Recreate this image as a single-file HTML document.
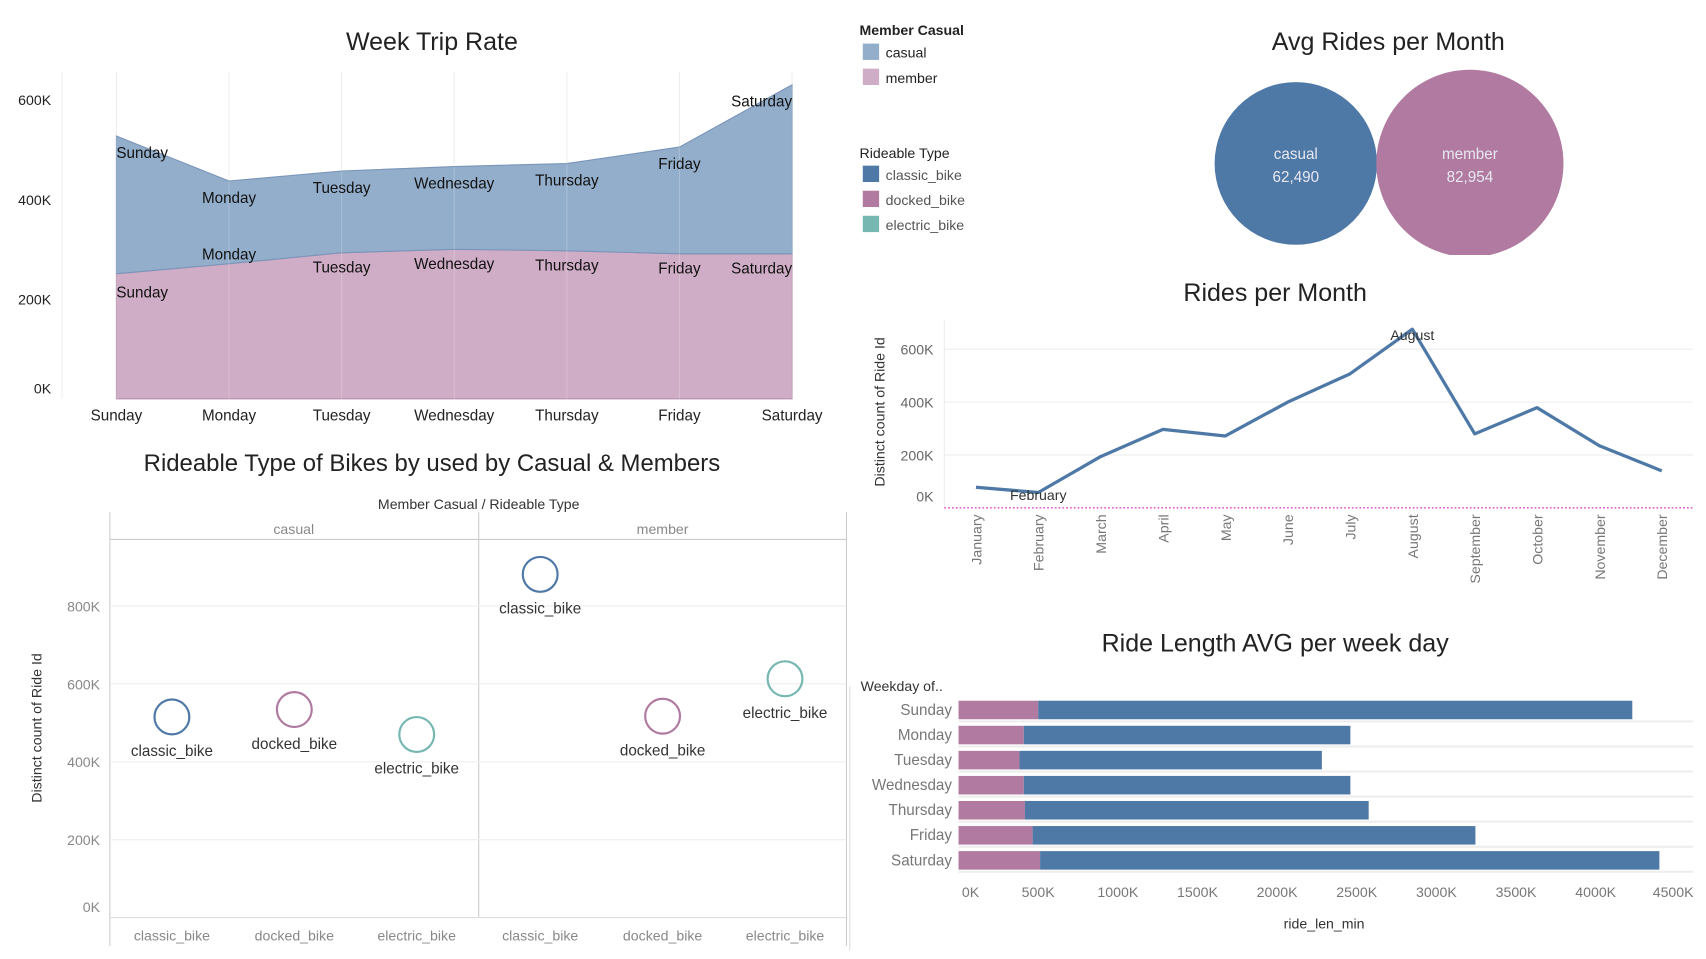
<!DOCTYPE html>
<html><head><meta charset="utf-8"><style>
html,body{margin:0;padding:0;background:#fff;overflow:hidden}
svg{display:block;font-family:"Liberation Sans",sans-serif}
</style></head><body>
<svg id="dash" width="1706" height="959" viewBox="0 0 1568 880" preserveAspectRatio="none" xmlns="http://www.w3.org/2000/svg">
</svg>
<script>
// ---------- data ----------
const weekDays = ["Sunday","Monday","Tuesday","Wednesday","Thursday","Friday","Saturday"];
const tripMember = [251000,271000,293000,300000,297000,291000,291000];
const tripCasual = [276000,166000,164000,166000,175000,214000,339000];
const tripTicks = [0,200000,400000,600000];

const avgLabels = ["casual","member"];
const avgValues = [62490,82954];

const months = ["January","February","March","April","May","June","July","August","September","October","November","December"];
const monthRides = [78000,58000,194000,297000,272000,400000,507000,676000,280000,379000,235000,140000];
const monthTicks = [0,200000,400000,600000];

const groups = ["casual","member"];
const bikeTypes = ["classic_bike","docked_bike","electric_bike"];
const bikeCasual = [515000,534000,470000];
const bikeMember = [881000,517000,613000];
const bikeTicks = [0,200000,400000,600000,800000];

const lenMember = [500000,410000,383000,410000,417000,465000,512000];
const lenCasual = [3730000,2050000,1898000,2050000,2158000,2780000,3888000];
const lenTicks = [0,500000,1000000,1500000,2000000,2500000,3000000,3500000,4000000,4500000];

const C_CAS="#4e79a7", C_MEM="#b07aa1", C_ELE="#76b7b2";
const svg=document.getElementById('dash');
const NS="http://www.w3.org/2000/svg";
function el(tag,attrs,parent){const e=document.createElementNS(NS,tag);for(const k in attrs)e.setAttribute(k,attrs[k]);(parent||svg).appendChild(e);return e;}
function txt(s,x,y,attrs,parent){const e=el('text',Object.assign({x:x,y:y},attrs||{}),parent);e.textContent=s;return e;}
function kfmt(v){return Math.round(v/1000)+"K";}

// ---------- Week Trip Rate ----------
const g1=el('g',{});


const t1=txt("Week Trip Rate",397,46,{"text-anchor":"middle","font-size":23,fill:"#222"},g1);


const wx=i=>107+i*103.5;
const wy=v=>366-v*91.5/200000;
el('line',{x1:57,y1:66,x2:57,y2:366,stroke:"#eee"},g1);
weekDays.forEach((d,i)=>el('line',{x1:wx(i),y1:66,x2:wx(i),y2:366,stroke:"#eeeeee","stroke-width":1},g1));
let pm="M"+wx(0)+","+wy(0);
weekDays.forEach((d,i)=>pm+=" L"+wx(i)+","+wy(tripMember[i]));
pm+=" L"+wx(6)+","+wy(0)+"Z";
let pc="M"+wx(0)+","+wy(tripMember[0]);
weekDays.forEach((d,i)=>pc+=" L"+wx(i)+","+wy(tripMember[i]+tripCasual[i]));
for(let i=6;i>=0;i--)pc+=" L"+wx(i)+","+wy(tripMember[i]);
pc+="Z";
const amem=el('path',{d:pm,fill:"#d0adc6",stroke:"#b88fae","stroke-width":1},g1);


const acas=el('path',{d:pc,fill:"#93aecb",stroke:"#7894b8","stroke-width":1},g1);


weekDays.forEach((d,i)=>{
  el('line',{x1:wx(i),y1:wy(tripMember[i]+tripCasual[i]),x2:wx(i),y2:366,stroke:"#ffffff","stroke-opacity":0.2},g1);
  const ax=wx(i);
  const anc=i===0?"start":(i===6?"end":"middle");
  txt(d,ax,wy(tripMember[i]+tripCasual[i])+20,{"text-anchor":anc,"font-size":14,fill:"#111"},g1);
  txt(d,ax,wy(tripMember[i])+(i===0?22:i===1?-4:18),{"text-anchor":anc,"font-size":14,fill:"#111"},g1);
  const xl=txt(d,wx(i),386,{"text-anchor":"middle","font-size":14,fill:"#222"},g1);
  
  
});
tripTicks.forEach(v=>{
  const y=Math.min(wy(v),356)+5;
  const tl=txt(kfmt(v),47,y,{"text-anchor":"end","font-size":13,fill:"#222"},g1);
  
  
});

// ---------- Legends ----------
const lg=el('g',{});


txt("Member Casual",790,32,{"font-size":13,"font-weight":"bold",fill:"#222"},lg);
[["casual","#93aecb",48],["member","#d0adc6",71]].forEach(r=>{
  const it=el('g',{},lg);
  
  
  el('rect',{x:793,y:r[2]-8,width:15,height:15,fill:r[1]},it);
  txt(r[0],814,r[2]+5,{"font-size":13,fill:"#222"},it);
});
txt("Rideable Type",790,145,{"font-size":13,fill:"#222"},lg);
[["classic_bike",C_CAS,160],["docked_bike",C_MEM,183],["electric_bike",C_ELE,206]].forEach(r=>{
  const it=el('g',{},lg);
  
  
  el('rect',{x:793,y:r[2]-8,width:15,height:15,fill:r[1]},it);
  txt(r[0],814,r[2]+5,{"font-size":13,fill:"#555"},it);
});

// ---------- Avg Rides per Month ----------
const g2=el('g',{});


txt("Avg Rides per Month",1276,46,{"text-anchor":"middle","font-size":23,fill:"#222"},g2);
const cp=el('clipPath',{id:"avgclip"},g2);
el('rect',{x:1050,y:55,width:500,height:179},cp);
const bubR=v=>86*Math.sqrt(v/avgValues[1]);
const bubCx=[1191,1351];
avgLabels.forEach((l,i)=>{
  const c=el('circle',{cx:bubCx[i],cy:150,r:bubR(avgValues[i]),fill:i?C_MEM:C_CAS,"clip-path":"url(#avgclip)"},g2);
  
  
  txt(l,bubCx[i],146,{"text-anchor":"middle","font-size":14,fill:"#e8e8f0"},g2);
  txt(avgValues[i].toLocaleString('en-US'),bubCx[i],167,{"text-anchor":"middle","font-size":14,fill:"#e8e8f0"},g2);
});

// ---------- Rides per Month ----------
const g3=el('g',{});


txt("Rides per Month",1172,276,{"text-anchor":"middle","font-size":23,fill:"#222"},g3);
const mx=i=>897+i*57.3;
const my=v=>466-v*48.5/200000;
el('line',{x1:868,y1:293,x2:868,y2:466,stroke:"#eee"},g3);
monthTicks.forEach(v=>{
  if(v>0)el('line',{x1:868,y1:my(v),x2:1556,y2:my(v),stroke:"#eee"},g3);
  const tl=txt(kfmt(v),858,Math.min(my(v),455)+5,{"text-anchor":"end","font-size":13,fill:"#666"},g3);
  
  
});
el('line',{x1:868,y1:466,x2:1556,y2:466,stroke:"#e040c0","stroke-dasharray":"1.5,2","stroke-width":1.2},g3);
const yt=txt("Distinct count of Ride Id",0,0,{"text-anchor":"middle","font-size":13,fill:"#333",transform:"translate(813,378) rotate(-90)"},g3);


let lp="";
months.forEach((m,i)=>{lp+=(i?" L":"M")+mx(i)+","+my(monthRides[i]);});
const line=el('path',{d:lp,fill:"none",stroke:C_CAS,"stroke-width":3,"stroke-linejoin":"round"},g3);


months.forEach((m,i)=>{
  const tl=txt(m,0,0,{"text-anchor":"end","font-size":13,fill:"#777",transform:"translate("+(mx(i)+5)+",472) rotate(-90)"},g3);
  
  
});
const maxI=monthRides.indexOf(Math.max(...monthRides));
const minI=monthRides.indexOf(Math.min(...monthRides));
txt(months[maxI],mx(maxI),my(monthRides[maxI])+10,{"text-anchor":"middle","font-size":13,fill:"#333"},g3);
txt(months[minI],mx(minI),my(monthRides[minI])+7,{"text-anchor":"middle","font-size":13,fill:"#333"},g3);

// ---------- Rideable type scatter ----------
const g4=el('g',{});


txt("Rideable Type of Bikes by used by  Casual & Members",397,432,{"text-anchor":"middle","font-size":22,fill:"#222"},g4);
txt("Member Casual  /  Rideable Type",440,467,{"text-anchor":"middle","font-size":13,fill:"#333"},g4);
el('line',{x1:101,y1:470,x2:101,y2:868,stroke:"#ccc"},g4);
el('line',{x1:440,y1:470,x2:440,y2:842,stroke:"#ccc"},g4);
el('line',{x1:778,y1:470,x2:778,y2:868,stroke:"#ccc"},g4);
el('line',{x1:101,y1:495,x2:778,y2:495,stroke:"#ccc"},g4);
el('line',{x1:101,y1:842,x2:778,y2:842,stroke:"#ddd"},g4);
txt("casual",270,490,{"text-anchor":"middle","font-size":13,fill:"#888"},g4);
txt("member",609,490,{"text-anchor":"middle","font-size":13,fill:"#888"},g4);
const sy=v=>842-v*71.5/200000;
bikeTicks.forEach(v=>{
  if(v>0)el('line',{x1:101,y1:sy(v),x2:778,y2:sy(v),stroke:"#eee"},g4);
  const tl=txt(kfmt(v),92,Math.min(sy(v),832)+5,{"text-anchor":"end","font-size":13,fill:"#888"},g4);
  
  
});
const yt2=txt("Distinct count of Ride Id",0,0,{"text-anchor":"middle","font-size":13,fill:"#333",transform:"translate(38,668) rotate(-90)"},g4);


const bcol=[C_CAS,C_MEM,C_ELE];
groups.forEach((gname,gi)=>{
  const vals=gi?bikeMember:bikeCasual;
  bikeTypes.forEach((b,bi)=>{
    const x=158+gi*338.5+bi*112.5;
    const c=el('circle',{cx:x,cy:sy(vals[bi]),r:16,fill:"none",stroke:bcol[bi],"stroke-width":2},g4);
    
    
    txt(b,x,sy(vals[bi])+36,{"text-anchor":"middle","font-size":14,fill:"#333"},g4);
    const xl=txt(b,x,863,{"text-anchor":"middle","font-size":13,fill:"#888"},g4);
    
    
  });
});

// ---------- Ride Length bars ----------
const g5=el('g',{});


txt("Ride Length AVG per week day",1172,598,{"text-anchor":"middle","font-size":23,fill:"#222"},g5);
txt("Weekday of..",791,634,{"font-size":13,fill:"#333"},g5);
el('line',{x1:781,y1:630,x2:781,y2:872,stroke:"#ddd"},g5);
const bx=v=>881+v*0.1464/1000;
const by=i=>643+i*23;
weekDays.forEach((d,i)=>{
  el('line',{x1:881,y1:by(i)+19,x2:1556,y2:by(i)+19,stroke:"#eee","stroke-width":2},g5);
  const r1=el('rect',{x:bx(0),y:by(i),width:bx(lenMember[i])-bx(0),height:17,fill:C_MEM},g5);
  
  
  const r2=el('rect',{x:bx(lenMember[i]),y:by(i),width:bx(lenMember[i]+lenCasual[i])-bx(lenMember[i]),height:17,fill:C_CAS},g5);
  
  
  const yl=txt(d,875,by(i)+13,{"text-anchor":"end","font-size":14,fill:"#777"},g5);
  
  
});
lenTicks.forEach((v,i)=>{
  const x=bx(v);
  const tl=txt(kfmt(v),i===0?x+11:(i===lenTicks.length-1?x-2:x),823,{"text-anchor":"middle","font-size":13,fill:"#777"},g5);
  
  
});
const xt=txt("ride_len_min",1217,852,{"text-anchor":"middle","font-size":13,fill:"#333"},g5);


</script>
</body></html>
